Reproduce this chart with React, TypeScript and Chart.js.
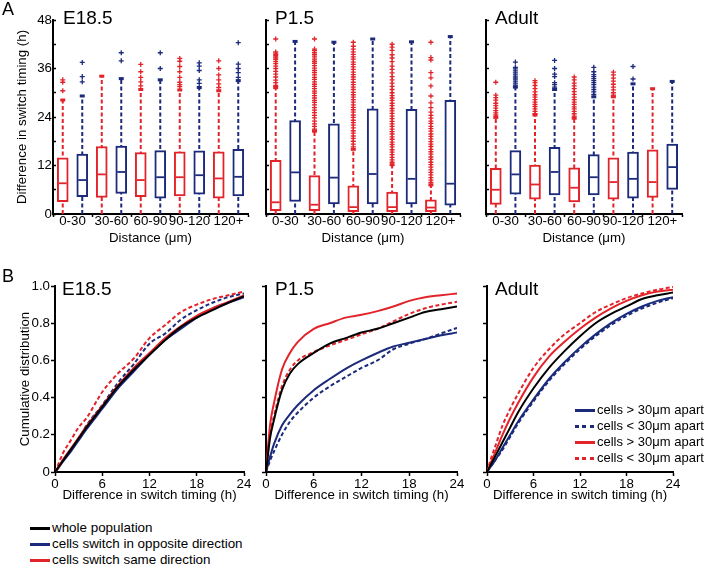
import React, { useEffect, useRef } from 'react';
import { Chart, registerables } from 'chart.js';

Chart.register(...registerables);

const FONT = "'Liberation Sans', Arial, Helvetica, sans-serif";
const RED = '#e3232a';
const BLUE = '#1b2a7b';
const BLACK = '#000000';

// ---------- Panel A: box plots ----------
const DISTANCE_BINS = ['0-30', '30-60', '60-90', '90-120', '120+'];
const A_Y_TITLE = 'Difference in switch timing (h)';
const A_X_TITLE = 'Distance (μm)';

// each row: [lower whisker, Q1, median, Q3, upper whisker]
const E185_SAME_BOX = [[0, 3.05, 7.6, 13.9, 28.2], [0, 4.1, 9.8, 16.7, 34.1], [0, 4.3, 8.4, 15.2, 30.8], [0, 4.5, 9.1, 15.4, 30.7], [0, 3.9, 8.8, 15.4, 30.5]];
const E185_OPP_BOX = [[0, 4.3, 8.4, 14.8, 29.2], [0, 5.1, 10.4, 16.8, 33.5], [0, 3.9, 9.1, 15.7, 33.2], [0, 4.9, 9.6, 15.6, 31.3], [0, 4.5, 9.2, 16.0, 33.0]];
const E185_SAME_OUT = [[30.5, 32.6, 33.2], [], [31.7, 32.7, 33.8, 35.2, 37.0], [31.5, 32.0, 32.6, 33.8, 35.2, 36.5, 37.8, 38.5], [31.3, 32.2, 33.2, 34.4, 36.0, 37.9]];
const E185_OPP_OUT = [[32.7, 34.0, 37.5], [37.9, 39.9], [36.0, 39.9], [32.3, 33.2, 35.5, 36.6, 37.4], [33.8, 35.0, 36.0, 37.1, 42.4]];

const P15_SAME_BOX = [[0, 0.8, 2.9, 13.3, 31.3], [0, 0.8, 2.3, 9.5, 20.5], [0, 0.6, 1.7, 7.0, 16.0], [0, 0.6, 1.7, 5.4, 12.2], [0, 0.6, 1.6, 3.5, 7.2]];
const P15_OPP_BOX = [[0, 3.1, 10.3, 23.1, 42.7], [0, 2.5, 9.0, 22.3, 42.5], [0, 2.5, 9.9, 26.0, 43.3], [0, 2.5, 8.7, 25.9, 42.6], [0, 2.2, 7.5, 28.1, 43.9]];
const P15_SAME_OUT = [
  [31.8, 32.5, 33.1, 33.9, 34.6, 35.3, 36.0, 36.6, 37.2, 37.7, 38.2, 38.6, 38.9, 39.2, 39.5, 39.8, 40.1, 43.3],
  [21.0, 21.7, 22.3, 23.0, 23.8, 24.4, 25.1, 25.7, 26.3, 27.0, 27.6, 28.1, 28.7, 29.3, 29.9, 30.4, 31.0, 31.6, 32.1, 32.7, 33.3, 33.8, 34.4, 35.0, 35.5, 36.1, 36.7, 37.3, 37.8, 38.3, 38.9, 39.4, 39.9, 40.4, 40.8, 43.3],
  [16.6, 17.3, 18.0, 18.7, 19.3, 20.0, 20.6, 21.3, 22.0, 22.6, 23.2, 23.9, 24.5, 25.2, 25.8, 26.4, 27.0, 27.7, 28.3, 28.9, 29.5, 30.1, 30.8, 31.4, 32.0, 32.6, 33.3, 33.9, 34.5, 35.1, 35.8, 36.4, 37.0, 37.6, 38.3, 38.9, 39.5, 40.1, 40.8, 41.5, 42.5],
  [12.8, 13.4, 14.0, 14.7, 15.3, 15.9, 16.6, 17.2, 17.8, 18.5, 19.1, 19.8, 20.4, 21.0, 21.7, 22.3, 22.9, 23.6, 24.2, 24.9, 25.5, 26.1, 26.8, 27.4, 28.1, 28.7, 29.3, 30.0, 30.8, 31.6, 32.4, 33.2, 34.0, 34.9, 35.8, 36.6, 37.7, 38.6, 39.4, 40.5, 41.3, 42.0],
  [7.8, 8.4, 9.0, 9.7, 10.3, 10.9, 11.6, 12.2, 12.8, 13.5, 14.1, 14.8, 15.4, 16.0, 16.7, 17.3, 17.9, 18.6, 19.2, 19.8, 20.5, 21.1, 21.7, 22.4, 23.0, 23.7, 24.4, 25.2, 26.3, 27.5, 29.2, 31.7, 33.7, 35.0, 38.1, 38.7, 42.5],
];
const P15_OPP_OUT = [[], [], [], [], []];

const ADULT_SAME_BOX = [[0, 2.4, 6.0, 11.3, 23.9], [0, 3.7, 7.3, 12.1, 24.5], [0, 3.0, 6.5, 11.4, 23.7], [0, 3.7, 7.9, 13.9, 29.0], [0, 4.1, 7.9, 15.9, 31.0]];
const ADULT_OPP_BOX = [[0, 4.9, 9.8, 15.7, 31.4], [0, 4.7, 10.4, 16.5, 30.8], [0, 4.7, 9.1, 14.7, 29.0], [0, 3.9, 8.7, 15.3, 32.2], [0, 6.1, 11.6, 17.3, 32.8]];
const ADULT_SAME_OUT = [
  [24.5, 25.0, 25.6, 26.2, 26.8, 27.4, 28.2, 28.8, 29.4, 32.6],
  [24.8, 25.4, 26.0, 26.6, 27.1, 27.7, 28.3, 28.9, 29.5, 30.2, 31.0, 31.8, 32.5, 33.0],
  [24.2, 24.8, 25.4, 26.0, 26.5, 27.1, 27.7, 28.3, 28.9, 29.6, 30.3, 31.0, 31.7, 32.4, 33.2, 33.9],
  [29.4, 30.0, 30.7, 31.4, 32.1, 32.9, 33.6, 34.4, 35.1],
  [],
];
const ADULT_OPP_OUT = [
  [31.9, 32.4, 32.9, 33.4, 33.9, 34.4, 34.9, 35.4, 35.9, 36.3, 37.6],
  [31.4, 32.0, 32.5, 34.0, 34.6, 36.0, 38.0],
  [29.6, 30.2, 30.8, 31.4, 32.0, 32.5, 33.0, 33.5, 34.0, 34.5, 35.2, 36.3],
  [33.4, 36.5],
  [],
];

// ---------- Panel B: cumulative distributions ----------
const B_Y_TITLE = 'Cumulative distribution';
const B_X_TITLE = 'Difference in switch timing (h)';
const CDF_HOURS = [0, 0.5, 1, 2, 3, 4, 6, 8, 10, 12, 14, 16, 18, 20, 22, 24];

const E185_WHOLE = [0, 0.03, 0.06, 0.12, 0.18, 0.24, 0.35, 0.46, 0.55, 0.63, 0.71, 0.78, 0.83, 0.87, 0.91, 0.945];
const E185_OPP_FAR = [0, 0.025, 0.055, 0.11, 0.17, 0.23, 0.34, 0.45, 0.54, 0.63, 0.71, 0.77, 0.83, 0.88, 0.91, 0.94];
const E185_OPP_NEAR = [0, 0.03, 0.06, 0.12, 0.18, 0.25, 0.36, 0.48, 0.58, 0.69, 0.745, 0.82, 0.87, 0.91, 0.94, 0.96];
const E185_SAME_FAR = [0, 0.03, 0.065, 0.125, 0.185, 0.245, 0.355, 0.465, 0.56, 0.64, 0.72, 0.785, 0.84, 0.88, 0.915, 0.95];
const E185_SAME_NEAR = [0, 0.05, 0.1, 0.17, 0.24, 0.29, 0.43, 0.53, 0.61, 0.72, 0.79, 0.86, 0.9, 0.93, 0.95, 0.97];

const P15_WHOLE = [0, 0.18, 0.28, 0.44, 0.53, 0.58, 0.64, 0.69, 0.72, 0.75, 0.77, 0.8, 0.83, 0.86, 0.875, 0.89];
const P15_OPP_FAR = [0, 0.08, 0.15, 0.25, 0.31, 0.36, 0.44, 0.5, 0.555, 0.6, 0.64, 0.675, 0.695, 0.715, 0.735, 0.75];
const P15_OPP_NEAR = [0, 0.06, 0.11, 0.2, 0.27, 0.32, 0.4, 0.46, 0.51, 0.56, 0.6, 0.66, 0.69, 0.715, 0.745, 0.775];
const P15_SAME_FAR = [0, 0.25, 0.37, 0.55, 0.64, 0.7, 0.77, 0.8, 0.83, 0.845, 0.865, 0.89, 0.92, 0.94, 0.95, 0.96];
const P15_SAME_NEAR = [0, 0.2, 0.3, 0.46, 0.55, 0.6, 0.645, 0.68, 0.71, 0.74, 0.77, 0.81, 0.85, 0.88, 0.9, 0.915];

const ADULT_WHOLE = [0, 0.04, 0.08, 0.16, 0.24, 0.32, 0.45, 0.56, 0.65, 0.73, 0.8, 0.85, 0.89, 0.93, 0.95, 0.965];
const ADULT_OPP_FAR = [0, 0.03, 0.06, 0.13, 0.2, 0.27, 0.39, 0.5, 0.59, 0.67, 0.74, 0.8, 0.85, 0.89, 0.92, 0.94];
const ADULT_OPP_NEAR = [0, 0.03, 0.06, 0.12, 0.19, 0.26, 0.38, 0.49, 0.58, 0.66, 0.73, 0.79, 0.84, 0.88, 0.91, 0.935];
const ADULT_SAME_FAR = [0, 0.05, 0.1, 0.2, 0.29, 0.37, 0.51, 0.62, 0.7, 0.77, 0.83, 0.88, 0.92, 0.95, 0.97, 0.98];
const ADULT_SAME_NEAR = [0, 0.07, 0.13, 0.25, 0.34, 0.42, 0.56, 0.66, 0.74, 0.8, 0.86, 0.9, 0.935, 0.96, 0.98, 0.995];

const LEGEND_DIRECTION = ['whole population', 'cells switch in opposite direction', 'cells switch same direction'];
const LEGEND_DISTANCE = ['cells > 30μm apart', 'cells < 30μm apart', 'cells > 30μm apart', 'cells < 30μm apart'];

// ---------- helpers ----------
const TICK_FONT = { family: FONT, size: 13.3, lineHeight: 1 };
const TITLE_FONT = { family: FONT, size: 13.3, lineHeight: 1.2 };

function frame(L: number, T: number, R: number, B: number, wy: number, hx: number) {
  const pl = 2, pt = 12, pr = 14;
  const left = L - wy - pl;
  const top = T - pt;
  return {
    box: { left, top, width: R + pr - left, height: B + hx - top },
    padding: { left: pl, top: pt, right: pr, bottom: 0 },
    wy,
    hx,
  };
}

function baseOptions(f: any) {
  return {
    responsive: true,
    maintainAspectRatio: false,
    animation: false,
    events: [],
    layout: { padding: f.padding },
    plugins: { legend: { display: false }, tooltip: { enabled: false }, title: { display: false } },
  };
}

function boxPlotConfig(f: any, sameBox: number[][], sameOut: number[][], oppBox: number[][], oppOut: number[][], showY: boolean) {
  const xOf = (g: number, s: number) => g * 2 + s;
  const series = [
    { box: sameBox, out: sameOut, color: RED, s: 0 },
    { box: oppBox, out: oppOut, color: BLUE, s: 1 },
  ];
  const datasets: any[] = [];
  datasets.push({
    type: 'bar',
    data: DISTANCE_BINS.flatMap((_, g) => [
      { x: xOf(g, 0), y: [sameBox[g][1], sameBox[g][3]] },
      { x: xOf(g, 1), y: [oppBox[g][1], oppBox[g][3]] },
    ]),
    backgroundColor: '#ffffff',
    borderColor: DISTANCE_BINS.flatMap(() => [RED, BLUE]),
    borderWidth: 2,
    borderSkipped: false,
    barThickness: 11,
    order: 3,
  });
  for (const { box, out, color, s } of series) {
    datasets.push({
      type: 'line',
      data: box.flatMap((b, g) => [{ x: xOf(g, s), y: b[0] }, { x: xOf(g, s), y: b[4] }, { x: xOf(g, s), y: null }]),
      borderColor: color,
      borderWidth: 2,
      borderDash: [4, 2.5],
      pointRadius: 0,
      spanGaps: false,
      order: 4,
    });
    datasets.push({
      type: 'scatter',
      data: box.map((b, g) => ({ x: xOf(g, s), y: b[2] })),
      pointStyle: 'line',
      pointRadius: 4,
      borderColor: color,
      pointBorderColor: color,
      pointBorderWidth: 1.8,
      order: 2,
    });
    datasets.push({
      type: 'scatter',
      data: box.map((b, g) => ({ x: xOf(g, s), y: b[4] })),
      pointStyle: 'line',
      pointRadius: 2.5,
      borderColor: color,
      pointBorderColor: color,
      pointBorderWidth: 3,
      order: 2,
    });
    datasets.push({
      type: 'scatter',
      data: out.flatMap((vals, g) => vals.map((v) => ({ x: xOf(g, s), y: v }))),
      pointStyle: 'cross',
      pointRadius: 2.5,
      borderColor: color,
      pointBorderColor: color,
      pointBorderWidth: 1.3,
      order: 1,
    });
  }
  const xTicks = DISTANCE_BINS.flatMap((_, g) => [xOf(g, 0) - 0.5, xOf(g, 0) + 0.5]).concat([DISTANCE_BINS.length * 2 - 0.5]);
  const labelAt = (v: number) => {
    const k = v - 0.5;
    if (Math.abs(k - Math.round(k)) < 1e-6 && Math.round(k) % 2 === 0) return DISTANCE_BINS[Math.round(k) / 2];
    return '';
  };
  return {
    type: 'bar',
    data: { datasets },
    options: {
      ...baseOptions(f),
      scales: {
        x: {
          type: 'linear',
          min: -0.5,
          max: DISTANCE_BINS.length * 2 - 0.5,
          offset: false,
          afterBuildTicks: (s: any) => {
            s.ticks = xTicks.map((v) => ({ value: v }));
          },
          afterFit: (s: any) => {
            s.height = f.hx;
          },
          ticks: { autoSkip: false, maxRotation: 0, minRotation: 0, padding: -2.5, color: BLACK, font: TICK_FONT, callback: (v: number) => labelAt(v) },
          grid: {
            offset: false,
            drawOnChartArea: false,
            drawTicks: true,
            tickLength: 3,
            tickWidth: 1.5,
            color: BLACK,
            tickColor: (c: any) => (c.tick && labelAt(c.tick.value) !== '' ? 'rgba(0,0,0,0)' : BLACK),
          },
          border: { display: true, color: BLACK, width: 2 },
          title: { display: true, text: A_X_TITLE, color: BLACK, font: TITLE_FONT, padding: 0 },
        },
        y: {
          type: 'linear',
          min: 0,
          max: 48,
          afterFit: (s: any) => {
            s.width = f.wy;
          },
          ticks: { stepSize: 6, autoSkip: false, padding: 4, color: BLACK, font: TICK_FONT, callback: (v: number) => (showY && v % 12 === 0 ? String(v) : '') },
          grid: { drawOnChartArea: false, drawTicks: true, tickLength: -3, tickWidth: 1.5, color: BLACK },
          border: { display: true, color: BLACK, width: 2 },
          title: { display: showY, text: A_Y_TITLE, color: BLACK, font: TITLE_FONT, padding: 0 },
        },
      },
    },
  };
}

function cdfConfig(f: any, curves: { values: number[]; color: string; dashed: boolean }[], showY: boolean) {
  const datasets = curves.map((c, i) => ({
    type: 'line',
    data: CDF_HOURS.map((h, k) => ({ x: h, y: c.values[k] })),
    borderColor: c.color,
    borderWidth: 2,
    borderDash: c.dashed ? [4, 2.5] : [],
    pointRadius: 0,
    cubicInterpolationMode: 'monotone',
    fill: false,
    order: curves.length - i,
  }));
  return {
    type: 'line',
    data: { datasets },
    options: {
      ...baseOptions(f),
      scales: {
        x: {
          type: 'linear',
          min: 0,
          max: 24,
          afterFit: (s: any) => {
            s.height = f.hx;
          },
          ticks: { stepSize: 6, autoSkip: false, maxRotation: 0, padding: 1.5, color: BLACK, font: TICK_FONT },
          grid: { drawOnChartArea: false, drawTicks: true, tickLength: 4, tickWidth: 1.5, color: BLACK },
          border: { display: true, color: BLACK, width: 2 },
          title: { display: true, text: B_X_TITLE, color: BLACK, font: TITLE_FONT, padding: 0 },
        },
        y: {
          type: 'linear',
          min: 0,
          max: 1,
          afterFit: (s: any) => {
            s.width = f.wy;
          },
          ticks: { stepSize: 0.2, autoSkip: false, padding: 1, color: BLACK, font: TICK_FONT, callback: (v: number) => (showY ? (v === 0 ? '0' : v.toFixed(1)) : '') },
          grid: { drawOnChartArea: false, drawTicks: true, tickLength: 4, tickWidth: 1.5, color: BLACK },
          border: { display: true, color: BLACK, width: 2 },
          title: { display: showY, text: B_Y_TITLE, color: BLACK, font: TITLE_FONT, padding: 0 },
        },
      },
    },
  };
}

function ChartCanvas({ box, config }: { box: any; config: any }) {
  const ref = useRef<HTMLCanvasElement | null>(null);
  useEffect(() => {
    if (!ref.current) return;
    const chart = new Chart(ref.current, config);
    return () => chart.destroy();
  }, []);
  return (
    <div style={{ position: 'absolute', left: box.left, top: box.top, width: box.width, height: box.height }}>
      <canvas ref={ref} />
    </div>
  );
}

function Text({ x, y, size, children }: { x: number; y: number; size: number; children: any }) {
  return (
    <div style={{ position: 'absolute', left: x, top: y, fontSize: size, lineHeight: 1, whiteSpace: 'nowrap' }}>{children}</div>
  );
}

function Swatch({ color, dashed, width }: { color: string; dashed: boolean; width: number }) {
  const bg = dashed ? `repeating-linear-gradient(90deg, ${color} 0px, ${color} 4px, transparent 4px, transparent 7.5px)` : color;
  return <div style={{ width, height: 3, background: bg, flex: 'none' }} />;
}

function LegendRow({ x, cy, color, dashed, text, size, sw }: any) {
  return (
    <div style={{ position: 'absolute', left: x, top: cy - 8, height: 16, display: 'flex', alignItems: 'center', whiteSpace: 'nowrap' }}>
      <Swatch color={color} dashed={dashed} width={sw} />
      <span style={{ marginLeft: 2, fontSize: size, lineHeight: '16px' }}>{text}</span>
    </div>
  );
}

// frames
const FA1 = frame(53, 20, 248, 214, 39, 32);
const FA2 = frame(266, 20, 460, 214, 12, 32);
const FA3 = frame(486, 20, 682, 214, 12, 32);
const FB1 = frame(55, 286, 244, 472, 38, 31);
const FB2 = frame(266, 286, 457, 472, 12, 31);
const FB3 = frame(487, 286, 673, 472, 12, 31);

function curvesOf(whole: number[], oppFar: number[], oppNear: number[], sameFar: number[], sameNear: number[]) {
  return [
    { values: oppNear, color: BLUE, dashed: true },
    { values: oppFar, color: BLUE, dashed: false },
    { values: sameNear, color: RED, dashed: true },
    { values: sameFar, color: RED, dashed: false },
    { values: whole, color: BLACK, dashed: false },
  ];
}

export default function App() {
  const cA1 = boxPlotConfig(FA1, E185_SAME_BOX, E185_SAME_OUT, E185_OPP_BOX, E185_OPP_OUT, true);
  const cA2 = boxPlotConfig(FA2, P15_SAME_BOX, P15_SAME_OUT, P15_OPP_BOX, P15_OPP_OUT, false);
  const cA3 = boxPlotConfig(FA3, ADULT_SAME_BOX, ADULT_SAME_OUT, ADULT_OPP_BOX, ADULT_OPP_OUT, false);
  const cB1 = cdfConfig(FB1, curvesOf(E185_WHOLE, E185_OPP_FAR, E185_OPP_NEAR, E185_SAME_FAR, E185_SAME_NEAR), true);
  const cB2 = cdfConfig(FB2, curvesOf(P15_WHOLE, P15_OPP_FAR, P15_OPP_NEAR, P15_SAME_FAR, P15_SAME_NEAR), false);
  const cB3 = cdfConfig(FB3, curvesOf(ADULT_WHOLE, ADULT_OPP_FAR, ADULT_OPP_NEAR, ADULT_SAME_FAR, ADULT_SAME_NEAR), false);

  const distColors = [BLUE, BLUE, RED, RED];
  const distDashed = [false, true, false, true];
  const dirColors = [BLACK, BLUE, RED];

  return (
    <div style={{ position: 'absolute', left: 0, top: 0, width: 708, height: 565, overflow: 'hidden', background: '#ffffff', fontFamily: FONT, color: '#000' }}>
      <ChartCanvas box={FA1.box} config={cA1} />
      <ChartCanvas box={FA2.box} config={cA2} />
      <ChartCanvas box={FA3.box} config={cA3} />
      <ChartCanvas box={FB1.box} config={cB1} />
      <ChartCanvas box={FB2.box} config={cB2} />
      <ChartCanvas box={FB3.box} config={cB3} />

      <Text x={2} y={0} size={18}>A</Text>
      <Text x={2} y={266.5} size={18}>B</Text>

      <Text x={63} y={7.5} size={19}>E18.5</Text>
      <Text x={275} y={7.5} size={19}>P1.5</Text>
      <Text x={495} y={7.5} size={19}>Adult</Text>

      <Text x={62} y={278.5} size={19}>E18.5</Text>
      <Text x={275} y={278.5} size={19}>P1.5</Text>
      <Text x={495} y={278.5} size={19}>Adult</Text>

      {LEGEND_DISTANCE.map((t, i) => (
        <LegendRow key={'d' + i} x={575} cy={410 + i * 16} color={distColors[i]} dashed={distDashed[i]} text={t} size={13} sw={20} />
      ))}
      {LEGEND_DIRECTION.map((t, i) => (
        <LegendRow key={'r' + i} x={30} cy={528 + i * 16} color={dirColors[i]} dashed={false} text={t} size={13.4} sw={20} />
      ))}
    </div>
  );
}
